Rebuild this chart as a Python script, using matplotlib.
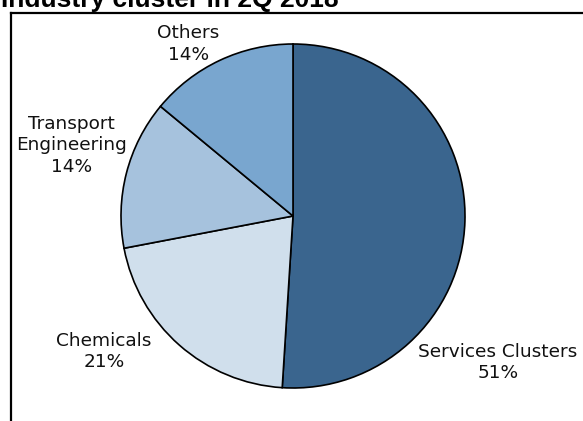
import matplotlib
matplotlib.use("Agg")
import matplotlib.pyplot as plt
from matplotlib.lines import Line2D

# industry share, 2Q 2018
clusters = ["Services Clusters", "Chemicals", "Transport\nEngineering", "Others"]
shares = [51, 21, 14, 14]
colors = ["#3A658E", "#D0DFEC", "#A6C2DD", "#79A6CF"]
# label anchor points in pie units (radius = 1)
label_pos = [(1.19, -0.85), (-1.10, -0.79), (-1.29, 0.41), (-0.61, 1.00)]

W, H = 583, 421
R = 172.0          # pie radius in px
cx, cy = 293, 216  # pie centre in px from top-left

plt.rcParams["font.family"] = ["DejaVu Sans"]
fig = plt.figure(figsize=(W / 100, H / 100), dpi=100)
fig.patch.set_facecolor("white")

ax = fig.add_axes([0, 0, 1, 1])
wedges, _ = ax.pie(shares, colors=colors, startangle=90, counterclock=False,
                   wedgeprops=dict(edgecolor="black", linewidth=1.2))
ax.set_aspect("auto")
ax.set_xlim(-cx / R, (W - cx) / R)
ax.set_ylim(-(H - cy) / R, cy / R)
ax.axis("off")

for name, val, (x, y) in zip(clusters, shares, label_pos):
    ax.text(x, y, f"{name}\n{val}%", ha="center", va="center",
            fontsize=13.3, color="#111111", linespacing=1.22)

# chart border (only top and left edges fall inside the image)
x0 = 11 / W
y0 = 1 - 13 / H
fig.add_artist(Line2D([x0, 1.05], [y0, y0], color="black", lw=1.6))
fig.add_artist(Line2D([x0, x0], [y0, -0.05], color="black", lw=1.6))

# title sits partly above the top edge
fig.text(0.002, 1 - 7.5 / H, "Industry cluster in 2Q 2018", fontsize=19,
         fontweight="bold", family=["Liberation Sans", "DejaVu Sans"],
         ha="left", va="baseline")

fig.savefig("out.png", dpi=100)
